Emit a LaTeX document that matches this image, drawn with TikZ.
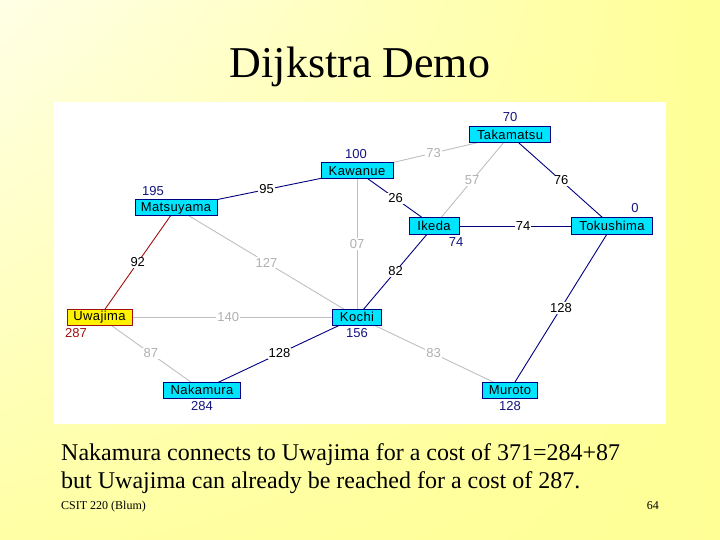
\documentclass[tikz,border=0pt]{standalone}
\usepackage{fontspec}
\usetikzlibrary{shadings}
\setmainfont{Liberation Serif}
\newfontfamily\guifont[LetterSpace=3]{Liberation Sans}
\newfontfamily\numfont{Liberation Sans}
\pgfdeclarelayer{bg}
\pgfdeclarelayer{edges}
\pgfsetlayers{bg,edges,main}
\definecolor{cyanbox}{RGB}{0,229,255}
\definecolor{navy}{RGB}{0,0,128}
\definecolor{navytext}{RGB}{20,20,130}
\definecolor{darkred}{RGB}{160,16,16}
\definecolor{greyline}{RGB}{192,192,192}
\definecolor{greytext}{RGB}{176,176,176}
\definecolor{bgA}{RGB}{255,255,230}
\definecolor{bgB}{RGB}{255,255,150}
\definecolor{bgC}{RGB}{255,255,165}
\definecolor{bgD}{RGB}{255,255,150}
\tikzset{
  city/.style={draw=navy, fill=cyanbox, line width=1pt, minimum height=16pt,
    inner sep=0pt, font=\guifont\fontsize{13}{13}\selectfont, text=black},
  homecity/.style={city, draw=darkred, fill=yellow},
  dist/.style={inner sep=0pt, font=\numfont\fontsize{13}{13}\selectfont, text=navytext},
  homedist/.style={dist, text=darkred},
  darkedge/.style={draw=navy, line width=0.9pt},
  greyedge/.style={draw=greyline, line width=0.9pt},
  rededge/.style={draw=darkred, line width=0.9pt},
  elab/.style={fill=white, inner sep=1pt, font=\numfont\fontsize{13}{13}\selectfont, text=black},
  glab/.style={elab, text=greytext},
  bodytext/.style={anchor=base west, inner sep=0pt, font=\fontsize{24}{28}\selectfont},
  foottext/.style={inner sep=0pt, font=\fontsize{12}{14}\selectfont}
}
\begin{document}
\begin{tikzpicture}[x=1pt,y=-1pt]
\useasboundingbox (0,0) rectangle (720,540);
\begin{pgfonlayer}{bg}
\shade[upper left=bgA, upper right=bgB, lower left=bgC, lower right=bgD] (0,0) rectangle (720,540);
\fill[white] (54,102) rectangle (666,424);
\end{pgfonlayer}

\node[anchor=base, inner sep=0pt, font=\fontsize{44}{50}\selectfont] (title) at (360,78) {Dijkstra Demo};

% cities
\node[city, minimum width=81pt] (tak) at (510,135) {Takamatsu};
\node[city, minimum width=72pt] (kaw) at (357,171) {Kawanue};
\node[city, minimum width=82pt] (mat) at (176,208) {Matsuyama};
\node[city, minimum width=50pt] (ike) at (434,226) {Ikeda};
\node[city, minimum width=81pt] (tok) at (612,226) {Tokushima};
\node[homecity, minimum width=65pt] (uwa) at (99.5,317) {Uwajima};
\node[city, minimum width=49pt] (koc) at (357,317) {Kochi};
\node[city, minimum width=77pt] (nak) at (202,390) {Nakamura};
\node[city, minimum width=55pt] (mur) at (510,390) {Muroto};

% distances
\node[dist] (dtak) at (510,117) {70};
\node[dist] (dkaw) at (356,154) {100};
\node[dist] (dmat) at (153,191) {195};
\node[dist] (dtok) at (635,208) {0};
\node[dist] (dike) at (456,242) {74};
\node[homedist] (duwa) at (76,333) {287};
\node[dist] (dkoc) at (357,333) {156};
\node[dist] (dnak) at (202,406) {284};
\node[dist] (dmur) at (510,406) {128};

\begin{pgfonlayer}{edges}
\draw[darkedge] (mat.center) -- node[elab] {95} (kaw.center);
\draw[greyedge] (kaw.center) -- node[glab] {73} (tak.center);
\draw[greyedge] (tak.center) -- node[glab] {57} (ike.center);
\draw[darkedge] (tak.center) -- node[elab] {76} (tok.center);
\draw[darkedge] (kaw.center) -- node[elab] {26} (ike.center);
\draw[darkedge] (ike.center) -- node[elab] {74} (tok.center);
\draw[greyedge] (kaw.center) -- node[glab] {07} (koc.center);
\draw[darkedge] (ike.center) -- node[elab] {82} (koc.center);
\draw[greyedge] (mat.center) -- node[glab] {127} (koc.center);
\draw[rededge] (mat.center) -- node[elab] {92} (uwa.center);
\draw[greyedge] (uwa.center) -- node[glab] {140} (koc.center);
\draw[greyedge] (uwa.center) -- node[glab] {87} (nak.center);
\draw[darkedge] (nak.center) -- node[elab] {128} (koc.center);
\draw[greyedge] (koc.center) -- node[glab] {83} (mur.center);
\draw[darkedge] (tok.center) -- node[elab] {128} (mur.center);
\end{pgfonlayer}

\node[bodytext] (line1) at (61,460) {Nakamura connects to Uwajima for a cost of 371=284+87};
\node[bodytext] (line2) at (61,488) {but Uwajima can already be reached for a cost of 287.};
\node[foottext, anchor=base west] (foot) at (61,509) {CSIT 220 (Blum)};
\node[foottext, anchor=base east] (page) at (659,509) {64};
\end{tikzpicture}
\end{document}
